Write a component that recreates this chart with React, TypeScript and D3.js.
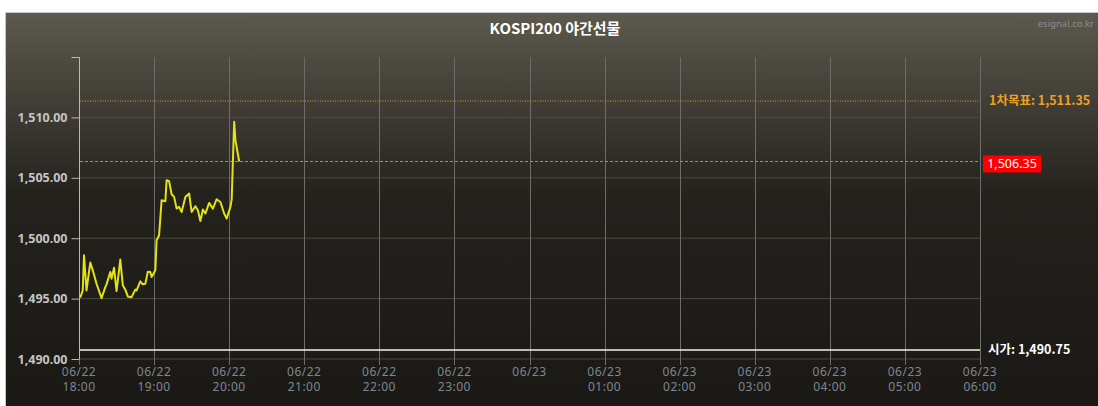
import React, { useEffect, useRef } from "react";
import * as d3 from "d3";

// 1-minute-ish samples of the night futures session
const times = [
  "18:01", "18:03", "18:04", "18:06", "18:09", "18:11", "18:14", "18:18", "18:21", "18:22",
  "18:25", "18:26", "18:28", "18:30", "18:33", "18:35", "18:37", "18:39", "18:42", "18:45",
  "18:46", "18:49", "18:51", "18:53", "18:55", "18:57", "18:58", "19:01", "19:02", "19:04",
  "19:06", "19:09", "19:10", "19:12", "19:14", "19:16", "19:18", "19:20", "19:22", "19:25",
  "19:28", "19:30", "19:33", "19:35", "19:37", "19:39", "19:41", "19:44", "19:47", "19:50",
  "19:53", "19:56", "19:58", "20:01", "20:02", "20:04", "20:05", "20:08",
];
const prices = [
  1495.07, 1495.68, 1498.58, 1495.68, 1497.98, 1497.34, 1496.23, 1495.04, 1495.95, 1496.18,
  1497.2, 1496.65, 1497.56, 1495.62, 1498.23, 1496.1, 1495.74, 1495.18, 1495.12, 1495.74,
  1495.68, 1496.43, 1496.18, 1496.23, 1497.23, 1497.2, 1496.78, 1497.34, 1499.83, 1500.24,
  1503.14, 1503.06, 1504.8, 1504.72, 1503.64, 1503.42, 1502.45, 1502.59, 1502.17, 1503.42,
  1503.7, 1502.17, 1502.65, 1502.31, 1501.43, 1502.37, 1502.04, 1502.92, 1502.45, 1503.23,
  1503.0, 1502.04, 1501.62, 1502.59, 1503.2, 1509.64, 1508.12, 1506.35,
];
const yTicks = [1490, 1495, 1500, 1505, 1510];
const targetPrice = 1511.35;
const currentPrice = 1506.35;
const openPrice = 1490.75;
const title = "KOSPI200 야간선물";

const parseTime = (t: string) => {
  const [h, m] = t.split(":").map(Number);
  // hours after midnight roll over to the next day
  return h < 12 ? new Date(2023, 5, 23, h, m) : new Date(2023, 5, 22, h, m);
};

export default function App() {
  const ref = useRef<SVGGElement>(null);
  const W = 1098,
    H = 406;
  const margin = { top: 57, right: 118, bottom: 47, left: 79 };
  const width = W - margin.left - margin.right,
    height = H - margin.top - margin.bottom;

  useEffect(() => {
    const g = d3.select(ref.current);
    g.selectAll("*").remove();

    const x = d3
      .scaleTime()
      .domain([new Date(2023, 5, 22, 18, 0), new Date(2023, 5, 23, 6, 0)])
      .range([0, width]);
    const y = d3.scaleLinear().domain([1490, 1515]).range([height, 0]);

    const hours = x.ticks(d3.timeHour.every(1)!);

    // horizontal grid
    g.append("g")
      .selectAll("line")
      .data(yTicks)
      .enter()
      .append("line")
      .attr("x1", 0)
      .attr("x2", width)
      .attr("y1", (d) => y(d))
      .attr("y2", (d) => y(d))
      .attr("stroke", "#4c4943")
      .attr("stroke-width", 1);

    // vertical grid
    g.append("g")
      .selectAll("line")
      .data(hours)
      .enter()
      .append("line")
      .attr("x1", (d) => Math.round(x(d)) + 0.5)
      .attr("x2", (d) => Math.round(x(d)) + 0.5)
      .attr("y1", 0)
      .attr("y2", height + 6)
      .attr("stroke", "#6e6c68")
      .attr("stroke-width", 1);

    // y axis
    const yAxis = g
      .append("g")
      .attr("transform", "translate(0.5,0)")
      .call(
        d3
          .axisLeft(y)
          .tickValues(yTicks)
          .tickSize(8)
          .tickFormat((d) => d3.format(",.2f")(d as number))
      );
    yAxis.select(".domain").attr("stroke", "#b8b8b8").attr("d", `M-8,0.5H0V${height}`);
    yAxis.selectAll(".tick line").attr("stroke", "#b8b8b8");
    yAxis
      .selectAll(".tick text")
      .attr("fill", "#c4c4c4")
      .attr("font-size", 12.5)
      .attr("font-weight", "bold")
      .attr("font-family", "'Noto Sans', sans-serif")
      .attr("x", -12);

    // x tick labels (midnight shows the date only)
    const fmtDay = d3.timeFormat("%m/%d");
    const fmtHour = d3.timeFormat("%H:%M");
    const xl = g
      .append("g")
      .selectAll("text")
      .data(hours)
      .enter()
      .append("text")
      .attr("x", (d) => x(d))
      .attr("text-anchor", "middle")
      .attr("fill", "#7e8791")
      .attr("font-size", 12)
      .attr("font-family", "'Noto Sans', sans-serif")
      .attr("letter-spacing", 0.5);
    xl.append("tspan").attr("x", (d) => x(d)).attr("y", height + 17).text((d) => fmtDay(d));
    xl.append("tspan")
      .attr("x", (d) => x(d))
      .attr("y", height + 32)
      .text((d) => (d.getHours() === 0 ? "" : fmtHour(d)));

    // reference lines
    g.append("line")
      .attr("x1", 1)
      .attr("x2", width)
      .attr("y1", y(targetPrice))
      .attr("y2", y(targetPrice))
      .attr("stroke", "#e89a10")
      .attr("stroke-dasharray", "1,1.5")
      .attr("stroke-width", 1);
    g.append("line")
      .attr("x1", 1)
      .attr("x2", width)
      .attr("y1", y(currentPrice))
      .attr("y2", y(currentPrice))
      .attr("stroke", "#44cc2a")
      .attr("stroke-dasharray", "3,2")
      .attr("stroke-width", 1);
    g.append("line")
      .attr("x1", 1)
      .attr("x2", width)
      .attr("y1", y(openPrice))
      .attr("y2", y(openPrice))
      .attr("stroke", "#f4f4f4")
      .attr("stroke-width", 1.5);

    // price line
    const pts = times.map((t, i) => ({ t: parseTime(t), v: prices[i] }));
    g.append("path")
      .datum(pts)
      .attr("fill", "none")
      .attr("stroke", "#e2e214")
      .attr("stroke-width", 2)
      .attr("stroke-linejoin", "round")
      .attr(
        "d",
        d3
          .line<{ t: Date; v: number }>()
          .x((d) => x(d.t))
          .y((d) => y(d.v))
      );

    // right-hand labels
    const fmt = d3.format(",.2f");
    g.append("text")
      .attr("x", width + 9)
      .attr("y", y(targetPrice))
      .attr("dy", "0.35em")
      .attr("fill", "#f0a020")
      .attr("font-size", 12.5)
      .attr("font-weight", "bold")
      .attr("font-family", "'Noto Sans CJK KR', sans-serif")
      .text(`1차목표: ${fmt(targetPrice)}`);

    g.append("rect")
      .attr("x", width + 3)
      .attr("y", y(currentPrice) - 6)
      .attr("width", 58)
      .attr("height", 17)
      .attr("fill", "#ff0000");
    g.append("text")
      .attr("x", width + 32)
      .attr("y", y(currentPrice) + 2.5)
      .attr("dy", "0.35em")
      .attr("text-anchor", "middle")
      .attr("fill", "#ffffff")
      .attr("font-size", 12.5)
      .attr("font-family", "'Noto Sans', sans-serif")
      .text(fmt(currentPrice));

    g.append("text")
      .attr("x", width + 8)
      .attr("y", y(openPrice))
      .attr("dy", "0.35em")
      .attr("fill", "#ffffff")
      .attr("font-size", 12.5)
      .attr("font-weight", "bold")
      .attr("font-family", "'Noto Sans CJK KR', sans-serif")
      .text(`시가: ${fmt(openPrice)}`);
  }, []);

  return (
    <svg
      width={W}
      height={H}
      style={{ position: "absolute", left: 0, top: 0, display: "block" }}
    >
      <defs>
        <linearGradient id="bg" x1="0" y1="0" x2="0" y2="1">
          <stop offset="0" stopColor="#5c594e" />
          <stop offset="0.45" stopColor="#24221d" />
          <stop offset="1" stopColor="#1a1814" />
        </linearGradient>
      </defs>
      <rect x={0} y={0} width={W} height={H} fill="#ffffff" />
      <rect x={5.5} y={12.5} width={W} height={H} fill="url(#bg)" stroke="#c8c8c8" strokeWidth={1} />
      <text
        x={555}
        y={34}
        textAnchor="middle"
        fill="#ffffff"
        fontSize={15}
        fontWeight="bold"
        fontFamily="'Noto Sans CJK KR', sans-serif"
      >
        {title}
      </text>
      <text
        x={1094}
        y={27}
        textAnchor="end"
        fill="#8e8e8e"
        fontSize={9.5}
        fontFamily="'Noto Sans', sans-serif"
      >
        esignal.co.kr
      </text>
      <g ref={ref} transform={`translate(${margin.left}, ${margin.top})`} />
    </svg>
  );
}
